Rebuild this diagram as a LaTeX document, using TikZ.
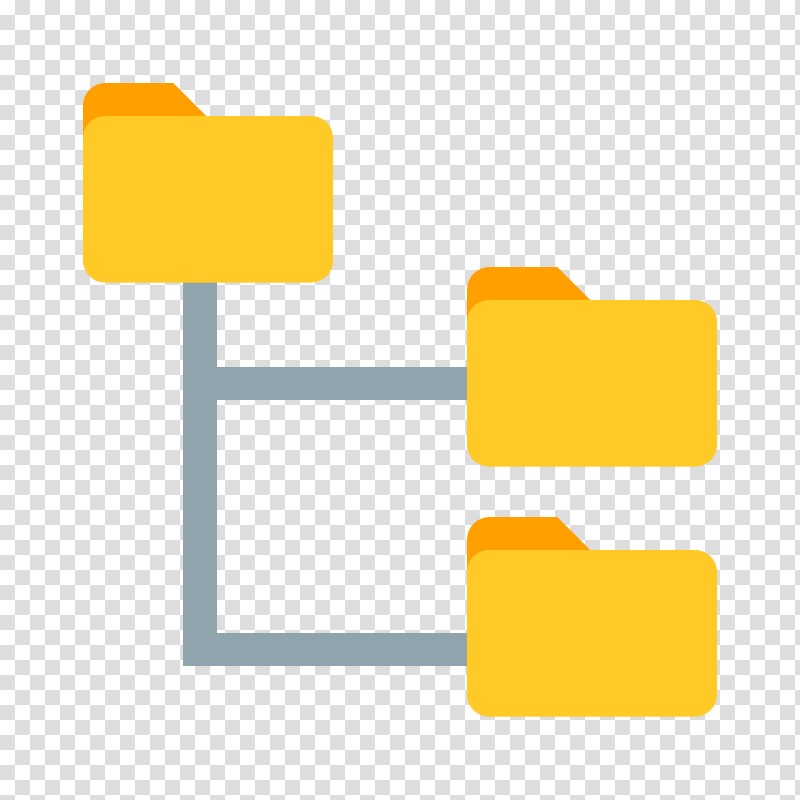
\documentclass[tikz,border=0pt]{standalone}
\definecolor{checker}{RGB}{221,221,221}
\definecolor{tabcol}{HTML}{FFA000}
\definecolor{frontcol}{HTML}{FFC926}
\definecolor{linkcol}{HTML}{90A4AE}
\pgfdeclarelayer{board}
\pgfdeclarelayer{links}
\pgfsetlayers{board,links,main}
\tikzset{
  front/.style={fill=frontcol,rounded corners=22pt,minimum width=250pt,minimum height=166.5pt,inner sep=0pt,outer sep=0pt,anchor=north west},
  tabshape/.style={fill=tabcol},
  link/.style={draw=linkcol,line width=33.5pt,line join=miter,line cap=butt,shorten <=-3pt,shorten >=-3pt}
}
\newcommand{\folderat}[3]{%
  \fill[tabshape] (#2,#3+40) -- (#2,#3-10) .. controls (#2,#3-23) and (#2+10,#3-33) .. (#2+23,#3-33) -- (#2+90,#3-33) -- (#2+124,#3+1) -- (#2+124,#3+40) -- cycle;
  \node[front] (#1) at (#2,#3) {};
}
\begin{document}
\begin{tikzpicture}[x=1pt,y=-1pt]
\useasboundingbox (0,0) rectangle (800,800);
\begin{pgfonlayer}{board}
\fill[white] (0,0) rectangle (800,800);
\clip (0,0) rectangle (800,800);
\foreach \i in {0,...,53}{\foreach \j in {0,...,53}{%
  \pgfmathparse{int(mod(\i+\j,2))}%
  \ifnum\pgfmathresult=1
    \fill[checker] (\i*15,\j*15) rectangle ++(15,15);
  \fi}}
\end{pgfonlayer}
\folderat{root}{83}{116}
\folderat{childa}{467}{300}
\folderat{childb}{467}{550}
\coordinate (branch) at (200,383.3);
\coordinate (elbow) at (200,649.7);
\begin{pgfonlayer}{links}
\draw[link] (root.south -| elbow) -- (elbow) -- (childb.west |- elbow);
\draw[link,shorten <=0pt] (branch) -- (childa.west |- branch);
\end{pgfonlayer}
\end{tikzpicture}
\end{document}
